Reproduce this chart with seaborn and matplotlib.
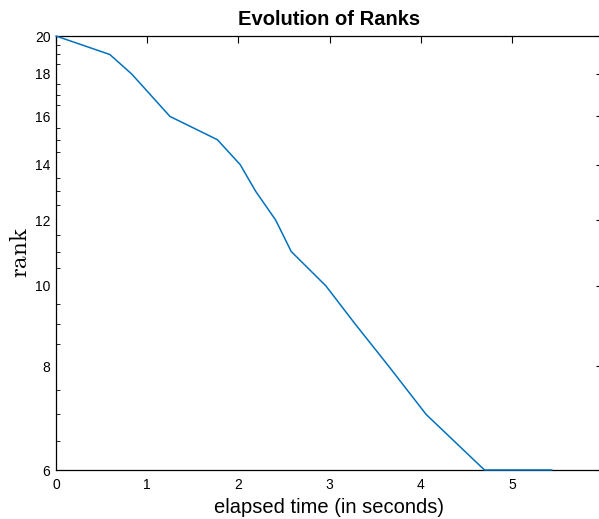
import numpy as np
import pandas as pd
import seaborn as sns
import matplotlib
matplotlib.use("Agg")
import matplotlib.pyplot as plt
from matplotlib.ticker import FixedLocator, FixedFormatter, NullFormatter

# rank reached at each elapsed time
elapsed = [0.0, 0.59, 0.83, 1.25, 1.77, 2.02, 2.19, 2.41, 2.58, 2.96, 3.28, 3.65, 4.06, 4.70, 5.44]
rank = [20, 19, 18, 16, 15, 14, 13, 12, 11, 10, 9, 8, 7, 6, 6]

y_major = [6, 8, 10, 12, 14, 16, 18, 20]
y_labels = [str(v) for v in y_major]
x_major = [0, 1, 2, 3, 4, 5]

sns.set_style("white")
plt.rcParams["font.family"] = ["Liberation Sans", "DejaVu Sans"]
plt.rcParams["mathtext.fontset"] = "cm"
plt.rcParams["text.color"] = "black"
plt.rcParams["axes.labelcolor"] = "black"
plt.rcParams["xtick.color"] = "black"
plt.rcParams["ytick.color"] = "black"

df = pd.DataFrame({"elapsed": elapsed, "rank": rank})

W, H = 599, 519
fig = plt.figure(figsize=(W / 100, H / 100), dpi=100)
left, right, top, bottom = 56, 603, 36, 470
ax = fig.add_axes([left / W, 1 - bottom / H, (right - left) / W, (bottom - top) / H])

sns.lineplot(data=df, x="elapsed", y="rank", sort=False, ax=ax,
             color="#0072BD", linewidth=1.1, zorder=3, clip_on=False)

ax.set_yscale("log")
ax.set_ylim(6, 20)
ax.set_xlim(0, 6)

ax.yaxis.set_major_locator(FixedLocator(y_major))
ax.yaxis.set_major_formatter(FixedFormatter(y_labels))
minor = [v for v in np.arange(6, 20.01, 0.5) if v not in y_major]
ax.yaxis.set_minor_locator(FixedLocator(minor))
ax.yaxis.set_minor_formatter(NullFormatter())
ax.xaxis.set_major_locator(FixedLocator(x_major))
ax.set_xticklabels([str(v) for v in x_major])

ax.tick_params(axis="both", which="major", direction="in", length=5, width=0.8,
               labelsize=10, top=True, right=True, colors="black")
ax.tick_params(axis="x", which="major", pad=6)
ax.tick_params(axis="y", which="major", pad=4)
ax.tick_params(axis="y", which="minor", direction="in", length=3, width=0.6,
               left=True, right=True, color="black")

for s in ax.spines.values():
    s.set_color("black")
    s.set_linewidth(0.9)

ax.set_title("Evolution of Ranks", fontsize=14.5, fontweight="bold", pad=8, color="black")
ax.set_xlabel("elapsed time (in seconds)", fontsize=14.5, labelpad=4, color="black")
ax.set_ylabel(r"$\mathrm{rank}$", fontsize=18, labelpad=2, color="black")

fig.savefig("out.png", dpi=100)
